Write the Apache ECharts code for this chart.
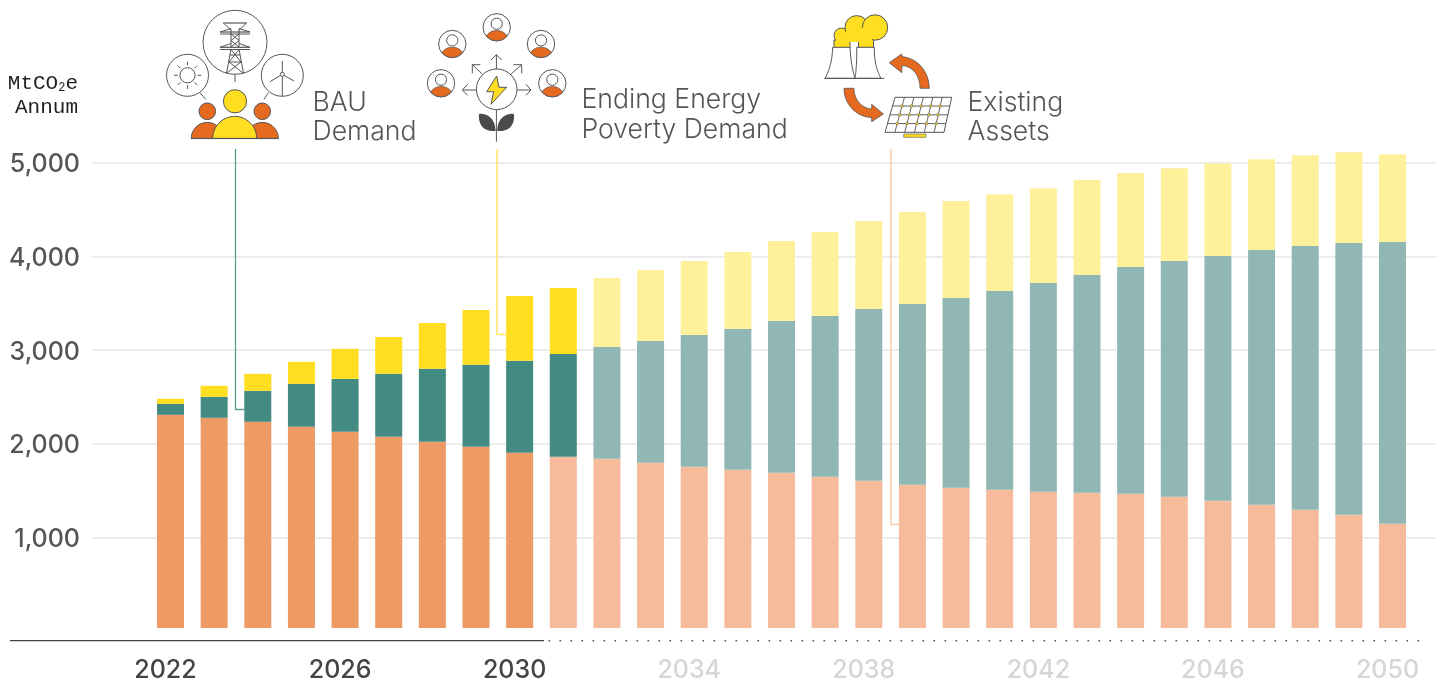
<!DOCTYPE html>
<html><head><meta charset="utf-8">
<style>html,body{margin:0;padding:0;background:#fff}#c{width:1440px;height:683px}</style>
<script src="https://cdn.jsdelivr.net/npm/echarts@6/dist/echarts.min.js"></script>
</head><body><div id="c"></div>
<script>
const years = [2022,2023,2024,2025,2026,2027,2028,2029,2030,2031,2032,2033,2034,2035,2036,2037,2038,2039,2040,2041,2042,2043,2044,2045,2046,2047,2048,2049,2050];
const existingAssets = [2306,2274,2231,2178,2125,2071,2018,1964,1900,1858,1836,1794,1751,1719,1687,1644,1601,1559,1527,1505,1484,1473,1463,1431,1388,1345,1292,1238,1142];
const bauDemand = [117,224,331,459,565,673,779,876,983,1099,1196,1302,1409,1505,1623,1719,1837,1932,2028,2125,2231,2328,2423,2519,2615,2723,2818,2904,3011];
const energyPovertyDemand = [54,118,182,235,321,395,491,587,693,705,737,758,790,822,854,897,939,982,1036,1035,1014,1014,1004,993,993,971,972,972,939];
const lastSolidYear = {orange:2030,teal:2031,yellow:2031};
const lastDarkLabel = 2030;
const yTicks = [0,5000];

const INK='#555555', OR='#E56A1F', YE='#FFDE21';
const G=[];
const Z=5;
function circle(cx,cy,r,fill,stroke,lw){G.push({type:'circle',z:Z,silent:true,shape:{cx,cy,r},style:{fill:fill||'none',stroke:stroke||null,lineWidth:lw==null?1:lw}});}
function line(x1,y1,x2,y2,c,lw,dash){G.push({type:'line',z:Z,silent:true,shape:{x1,y1,x2,y2},style:{stroke:c||INK,lineWidth:lw||1,lineDash:dash||null}});}
function pl(pts,c,lw){G.push({type:'polyline',z:Z,silent:true,shape:{points:pts},style:{stroke:c||INK,lineWidth:lw||1,fill:'none'}});}
function sample(d){
  const t=d.match(/[MLCQZ]|-?[\d.]+/g);let i=0,p=[],cx=0,cy=0,cmd='';
  while(i<t.length){
    if(/[MLCQZ]/.test(t[i])){cmd=t[i++];if(cmd==='Z')continue;}
    const n=()=>parseFloat(t[i++]);
    if(cmd==='M'||cmd==='L'){cx=n();cy=n();p.push([cx,cy]);}
    else if(cmd==='C'){const a=n(),b=n(),c=n(),e=n(),f=n(),g=n();for(let k=1;k<=16;k++){const u=k/16,v=1-u;p.push([v*v*v*cx+3*v*v*u*a+3*v*u*u*c+u*u*u*f,v*v*v*cy+3*v*v*u*b+3*v*u*u*e+u*u*u*g]);}cx=f;cy=g;}
    else if(cmd==='Q'){const a=n(),b=n(),c=n(),e=n();for(let k=1;k<=14;k++){const u=k/14,v=1-u;p.push([v*v*cx+2*v*u*a+u*u*c,v*v*cy+2*v*u*b+u*u*e]);}cx=c;cy=e;}
  }
  return p;
}
function shape(pts,fill,stroke,lw){G.push({type:'polygon',z:Z,silent:true,shape:{points:typeof pts==='string'?sample(pts):pts},style:{fill:fill||'none',stroke:stroke||null,lineWidth:lw==null?1:lw}});}
function arc(cx,cy,r,a0,a1,n){const o=[];n=n||28;for(let k=0;k<=n;k++){const a=(a0+(a1-a0)*k/n)*Math.PI/180;o.push([cx+r*Math.cos(a),cy+r*Math.sin(a)]);}return o;}
function text(t,x,y,font,fill,align,extra){G.push({type:'text',z:Z,silent:true,style:Object.assign({text:t,x,y,font,fill,align:align||'left',verticalAlign:'middle'},extra||{})});}

/* ---- BAU icon ---- */
circle(235,42.3,32,'#fff',INK);
circle(187.5,75.3,21,'#fff',INK);
circle(282.3,75.3,21,'#fff',INK);
line(235,75,235,82);line(200,92.7,205.7,99.3);line(268.3,92.7,264,99.3);
// sun
circle(187.5,75.3,7.6,'#fff',INK);
for(let a=0;a<360;a+=45){const r=a*Math.PI/180;line(187.5+10*Math.cos(r),75.3+10*Math.sin(r),187.5+13.6*Math.cos(r),75.3+13.6*Math.sin(r));}
// turbine
line(282.3,61,282.3,96);line(282.3,74.3,270,81.7);line(282.3,74.3,294,81);circle(282.3,74.3,2,'#fff',INK);
// tower
line(223.3,23,246.7,23,INK,1.2);line(223.3,23,231,30);line(246.7,23,239,30);
line(220,32,250,32,INK,1.2);line(220,34,250,34);line(220,32,231,28.5);line(250,32,239,28.5);
line(231,29,231,47);line(239,29,239,47);
line(231,34,239,40.5);line(239,34,231,40.5);line(231,40.5,239,47);line(239,40.5,231,47);
line(220,47.3,250,47.3,INK,1.2);line(220,49.5,250,49.5);line(220,47.3,231,43.5);line(250,47.3,239,43.5);
line(231,49,226.5,73.5);line(239,49,243.5,73.5);
line(230,55,240,55);line(229,62,241,62);line(231,49.5,241,62);line(239,49.5,229,62);line(229,62,243,73);line(241,62,227,73);
// people
shape(arc(207.3,138.4,16,180,360),OR,INK);
shape(arc(262.3,138.4,16,180,360),OR,INK);
circle(207.3,111.3,8.3,OR,INK);
circle(262.3,111.3,8.3,OR,INK);
circle(235,101.3,11.6,YE,INK);
shape(arc(234.7,138.4,22,180,360),YE,INK);
line(191,138.6,278.5,138.6,INK,1);

/* ---- Energy poverty icon ---- */
function person(cx,cy){
  circle(cx,cy,13.7,'#fff',INK);
  circle(cx,cy-3.6,5.6,'#fff',INK);
  const top=sample('M'+(cx-10.4)+' '+(cy+8.6)+' C'+(cx-7)+' '+(cy+4)+' '+(cx-3)+' '+(cy+3.2)+' '+cx+' '+(cy+3.2)+' C'+(cx+3)+' '+(cy+3.2)+' '+(cx+7)+' '+(cy+4)+' '+(cx+10.4)+' '+(cy+8.6));
  const a=Math.atan2(8.6,10.4)*180/Math.PI;
  shape(top.concat(arc(cx,cy,13.4,a,180-a,20)),OR,INK,0.8);
}
person(496.7,27.3);person(452.3,44);person(541,44);person(441,83.3);person(552.3,83.3);
circle(496.7,89.3,20.3,'#fff',INK);
shape([[496.7,76],[486.7,91.7],[493.7,91.7],[491,104.3],[506.7,87.3],[499,87.3]],YE,INK);
line(496.4,69,496.4,54.7);pl([[491,60],[496.4,54.7],[501.7,60]]);
line(476.4,90,462.3,90);pl([[467.7,84.3],[462.3,90],[467.7,95.3]]);
line(517,90,531,90);pl([[526,84.3],[531,90],[526,95.3]]);
line(482.3,74,472.3,64.7);pl([[472.3,73.3],[472.3,64.7],[480.3,64.7]]);
line(511,74,521.7,64.7);pl([[513.3,64.7],[521.7,64.7],[521.7,73.3]]);
line(496.4,109.6,496.4,141.7);
shape('M479 114 C486 113 495 117 495.6 131 C486 132 478 127 479 114 Z','#4a4a4a');
shape('M514 114 C507 113 497.4 117 497.2 131 C507 132 515 127 514 114 Z','#4a4a4a');

/* ---- Existing assets icon ---- */
circle(841.5,35.5,7.5,YE,INK);
shape([[834,40],[850,40],[850,48],[834,48]],YE,INK);
circle(856.7,27.3,11.7,YE,INK);
shape([[858.5,38],[873.5,38],[873.5,48],[858.5,48]],YE,INK);
circle(875,27.5,12.7,YE,INK);
shape([[836,34],[848,34],[848,44],[836,44]],YE);
shape([[846,28],[868,28],[868,42],[846,42]],YE);
shape([[860,32],[872,32],[872,42],[860,42]],YE);
shape('M832.7 47.3 L850 47.3 Q851 66 855 78.3 L825 78.3 Q832 66 832.7 47.3 Z','#fff',INK);
shape('M856.7 47.3 L874.3 47.3 Q874 66 881 78.3 L855 78.3 Q857 66 856.7 47.3 Z','#fff',INK);
line(824.3,78.4,884.3,78.4,INK,1);
shape('M929.3 88.3 C929 72 918 58 902 56.7 L901.7 54 L889.3 62.7 L901.7 72.7 L902 65.5 C912 66 920 75 920 88.3 Z',OR,INK,0.8);
shape('M844 88.3 C844 104 856 117 871.7 117.5 L871.7 121.7 L883.3 114 L871.7 104.3 L871.7 109 C862 108.5 854 100 854 88.3 Z',OR,INK,0.8);
(function(){
  const TL=[895,97.3],TR=[951.7,97.3],BR=[944,132.3],BL=[885,132.3];
  const pt=(u,v)=>{const xa=TL[0]+(TR[0]-TL[0])*u,xb=BL[0]+(BR[0]-BL[0])*u;return [xa+(xb-xa)*v,TL[1]+(BL[1]-TL[1])*v];};
  shape([TL,TR,BR,BL],'#fff',INK);
  for(let i=1;i<6;i++){const a=pt(i/6,0),b=pt(i/6,1);line(a[0],a[1],b[0],b[1],INK,0.9);}
  for(let j=1;j<4;j++){const a=pt(0,j/4),b=pt(1,j/4);line(a[0],a[1],b[0],b[1],INK,0.9);}
  for(let i=1;i<6;i++)for(let j=1;j<4;j++){const p=pt(i/6,j/4);circle(p[0],p[1],1.3,YE,INK,0.5);}
})();
shape([[903.7,134],[926,134],[926,137.3],[903.7,137.3]],YE,INK,0.6);

/* ---- Leader lines ---- */
pl([[235.5,149],[235.5,409.5],[244,409.5]],'#5c9a93',1.3);
pl([[497,149],[497,334.5],[506,334.5]],'#FFE566',1.5);
pl([[891,149],[891,524.5],[899,524.5]],'#F9CDB0',1.5);

/* ---- Baseline ---- */
line(10,640.7,544,640.7,'#444444',1.2);
G.push({type:'line',z:Z,silent:true,shape:{x1:548.5,y1:640.7,x2:1420,y2:640.7},style:{stroke:'#555',lineWidth:1.6,lineDash:[1.6,9.4]}});

/* ---- Texts ---- */
const LF='300 26.6px Inter', MONO='21px "Liberation Mono"';
text('BAU',312.5,102.5,LF,'#555');
text('Demand',312.5,131.5,LF,'#555');
text('Ending Energy',581.5,100,LF,'#555');
text('Poverty Demand',581.5,130,LF,'#555');
text('Existing',967.5,103,LF,'#555');
text('Assets',967.5,132,LF,'#555');
text('MtCO{s|2}e',78,83.5,MONO,'#222','right',{rich:{s:{font:'12px "Liberation Mono"',fill:'#222',verticalAlign:'bottom',padding:[6,0,0,0]}}});
text('Annum',78,107,MONO,'#222','right');

const pale={orange:'#F5BB9B',teal:'#90B7B4',yellow:'#FFF09C'};
const solid={orange:'#EE9A65',teal:'#438A83',yellow:'#FFDE21'};
const tone=k=>p=>(years[p.dataIndex]<=lastSolidYear[k]?solid[k]:pale[k]);
function bar(name,data,k){return {name,type:'bar',stack:'total',xAxisIndex:1,yAxisIndex:1,barWidth:27,data,itemStyle:{color:tone(k)},emphasis:{disabled:true}};}

const chart=echarts.init(document.getElementById('c'),null,{renderer:'canvas'});
chart.setOption({
  animation:false,backgroundColor:'#fff',
  tooltip:{show:false},legend:{show:false},
  grid:[
    {left:92,top:162.7,width:1344,height:468.3,containLabel:false},
    {left:148.68,top:144.1,width:1265.64,height:485.4,containLabel:false}
  ],
  xAxis:[
    {gridIndex:0,type:'value',show:false,min:0,max:1},
    {gridIndex:1,type:'category',data:years.map(String),
     axisLine:{show:false},axisTick:{show:false},splitLine:{show:false},
     axisLabel:{interval:3,margin:30,padding:[0,10,0,0],verticalAlign:'top',fontFamily:'Inter',fontSize:25,fontWeight:500,
       color:v=>(+v<=lastDarkLabel?'#444444':'#D6D6D6')}}
  ],
  yAxis:[
    {gridIndex:0,type:'value',min:yTicks[0],max:yTicks[1],interval:1000,
     axisLine:{show:false},axisTick:{show:false},
     splitLine:{show:true,showMinLine:false,lineStyle:{color:'#E6E6E6',width:1.5}},
     axisLabel:{show:true,showMinLabel:false,margin:12,verticalAlign:'top',lineHeight:4,fontFamily:'Inter',fontSize:25,fontWeight:500,color:'#555555',
       formatter:v=>v.toLocaleString('en-US')}},
    {gridIndex:1,type:'value',show:false,min:26.7,max:5200}
  ],
  series:[
    bar('Existing Assets',existingAssets,'orange'),
    bar('BAU Demand',bauDemand,'teal'),
    bar('Ending Energy Poverty Demand',energyPovertyDemand,'yellow')
  ],
  graphic:{elements:G}
});
</script></body></html>
